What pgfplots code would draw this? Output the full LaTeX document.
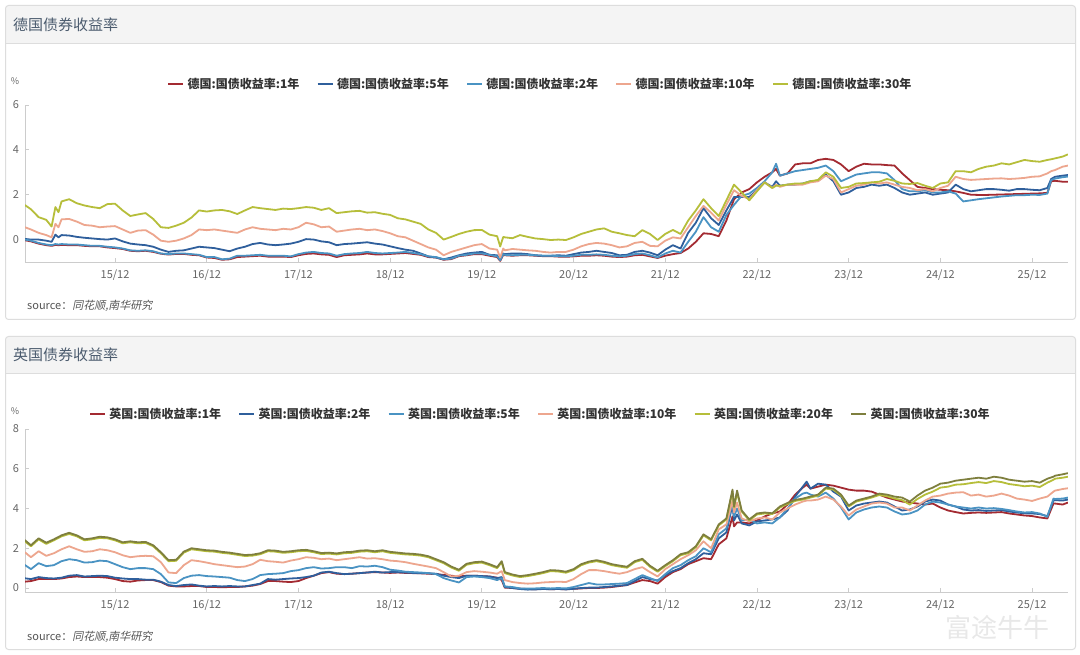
\documentclass[border=0pt]{standalone}
\usepackage{pgfplots}
\usepackage{pgfplotstable}
\pgfplotsset{compat=1.18}
\usepackage{fontspec}
\setmainfont{Noto Sans CJK SC}
\newfontfamily\cjkslant{Noto Sans CJK SC}[FakeSlant=0.2]

\definecolor{cred}{HTML}{A32A31}
\definecolor{cdblue}{HTML}{2F5F9C}
\definecolor{clblue}{HTML}{4A93C3}
\definecolor{csalmon}{HTML}{EDA68E}
\definecolor{cyellow}{HTML}{B6BE3A}
\definecolor{colive}{HTML}{7E7F3E}
\definecolor{panelborder}{HTML}{DDDDDD}
\definecolor{titlefill}{HTML}{F4F4F4}
\definecolor{titlecol}{HTML}{4B5B6E}
\definecolor{axiscol}{HTML}{CCCCCC}
\definecolor{tickcol}{HTML}{666666}
\definecolor{legcol}{HTML}{333333}
\definecolor{srccol}{HTML}{555555}

\pgfplotstableread[row sep=\\]{
m g1 g2 g5 g10 g30\\
-0.8 -0.03 0.00 0.03 0.55 1.54\\
0 -0.08 -0.05 0.00 0.45 1.35\\
1 -0.18 -0.15 0.00 0.30 1.00\\
2 -0.25 -0.22 -0.05 0.20 0.88\\
2.7 -0.28 -0.25 -0.10 0.10 0.58\\
3.2 -0.24 -0.20 0.22 0.70 1.45\\
3.6 -0.25 -0.22 0.10 0.55 1.22\\
4 -0.24 -0.20 0.20 0.90 1.70\\
5 -0.25 -0.22 0.18 0.92 1.80\\
6 -0.25 -0.22 0.12 0.80 1.62\\
7 -0.28 -0.25 0.08 0.65 1.52\\
8 -0.30 -0.28 0.05 0.62 1.45\\
9 -0.30 -0.28 0.02 0.55 1.40\\
10 -0.35 -0.32 0.00 0.58 1.58\\
11 -0.38 -0.35 0.05 0.60 1.60\\
12 -0.42 -0.40 -0.08 0.45 1.30\\
13 -0.50 -0.48 -0.18 0.30 1.05\\
14 -0.52 -0.50 -0.22 0.40 1.12\\
15 -0.50 -0.48 -0.25 0.42 1.18\\
16 -0.55 -0.52 -0.32 0.22 0.92\\
17 -0.63 -0.62 -0.45 -0.05 0.55\\
18 -0.67 -0.65 -0.55 -0.10 0.52\\
19 -0.64 -0.62 -0.50 -0.05 0.62\\
20 -0.64 -0.62 -0.48 0.05 0.75\\
21 -0.68 -0.65 -0.40 0.20 0.98\\
22 -0.70 -0.68 -0.32 0.45 1.30\\
23 -0.80 -0.78 -0.35 0.42 1.25\\
24 -0.82 -0.78 -0.38 0.45 1.30\\
25 -0.90 -0.88 -0.45 0.40 1.32\\
26 -0.88 -0.85 -0.52 0.35 1.26\\
27 -0.78 -0.72 -0.40 0.30 1.14\\
28 -0.76 -0.72 -0.32 0.45 1.30\\
29 -0.74 -0.70 -0.20 0.55 1.45\\
30 -0.72 -0.68 -0.15 0.48 1.40\\
31 -0.76 -0.72 -0.22 0.45 1.36\\
32 -0.76 -0.72 -0.25 0.42 1.32\\
33 -0.76 -0.72 -0.22 0.48 1.38\\
34 -0.78 -0.75 -0.18 0.45 1.36\\
35 -0.70 -0.65 -0.10 0.55 1.40\\
36 -0.64 -0.58 0.02 0.75 1.45\\
37 -0.62 -0.55 0.00 0.68 1.42\\
38 -0.66 -0.60 -0.08 0.55 1.32\\
39 -0.68 -0.62 -0.12 0.58 1.40\\
40 -0.78 -0.72 -0.25 0.35 1.18\\
41 -0.70 -0.65 -0.20 0.40 1.22\\
42 -0.68 -0.62 -0.18 0.45 1.26\\
43 -0.66 -0.60 -0.15 0.48 1.28\\
44 -0.62 -0.55 -0.12 0.42 1.20\\
45 -0.66 -0.60 -0.18 0.45 1.22\\
46 -0.66 -0.62 -0.22 0.38 1.15\\
47 -0.64 -0.60 -0.30 0.28 1.10\\
48 -0.62 -0.58 -0.38 0.15 0.95\\
49 -0.60 -0.55 -0.45 0.10 0.90\\
50 -0.64 -0.60 -0.50 -0.05 0.80\\
51 -0.68 -0.65 -0.62 -0.20 0.70\\
52 -0.78 -0.75 -0.75 -0.35 0.45\\
53 -0.80 -0.78 -0.80 -0.45 0.30\\
54 -0.90 -0.88 -0.88 -0.70 0.00\\
55 -0.87 -0.85 -0.80 -0.55 0.12\\
56 -0.74 -0.72 -0.70 -0.45 0.25\\
57 -0.70 -0.68 -0.62 -0.35 0.35\\
58 -0.65 -0.62 -0.58 -0.25 0.42\\
59 -0.65 -0.62 -0.55 -0.20 0.43\\
60 -0.72 -0.68 -0.68 -0.40 0.22\\
61 -0.78 -0.75 -0.70 -0.45 0.15\\
61.4 -0.95 -0.92 -0.90 -0.80 -0.31\\
61.8 -0.68 -0.65 -0.62 -0.40 0.12\\
62 -0.70 -0.68 -0.65 -0.48 0.10\\
63 -0.72 -0.70 -0.62 -0.42 0.06\\
64 -0.70 -0.68 -0.62 -0.45 0.20\\
65 -0.70 -0.68 -0.65 -0.48 0.12\\
66 -0.72 -0.70 -0.70 -0.50 0.05\\
67 -0.74 -0.72 -0.72 -0.55 0.02\\
68 -0.74 -0.72 -0.72 -0.58 -0.02\\
69 -0.76 -0.74 -0.70 -0.55 0.00\\
70 -0.77 -0.75 -0.72 -0.55 -0.02\\
71 -0.75 -0.72 -0.65 -0.45 0.10\\
72 -0.72 -0.68 -0.58 -0.30 0.25\\
73 -0.72 -0.68 -0.55 -0.20 0.35\\
74 -0.70 -0.66 -0.50 -0.15 0.45\\
75 -0.72 -0.68 -0.55 -0.18 0.50\\
76 -0.76 -0.72 -0.60 -0.25 0.35\\
77 -0.78 -0.75 -0.70 -0.35 0.28\\
78 -0.76 -0.72 -0.68 -0.30 0.20\\
79 -0.70 -0.65 -0.55 -0.15 0.15\\
80 -0.68 -0.62 -0.50 -0.10 0.42\\
81 -0.75 -0.70 -0.58 -0.28 0.25\\
82 -0.82 -0.80 -0.70 -0.30 -0.02\\
83 -0.72 -0.62 -0.45 -0.05 0.25\\
84 -0.65 -0.50 -0.25 0.10 0.43\\
85 -0.60 -0.58 -0.40 0.05 0.25\\
86 -0.40 -0.10 0.30 0.55 0.85\\
87 -0.10 0.35 0.75 1.05 1.30\\
88 0.28 1.00 1.40 1.50 1.80\\
89 0.25 0.55 0.95 1.20 1.40\\
90 0.15 0.35 0.65 0.85 1.05\\
91 0.85 1.10 1.30 1.55 1.75\\
92 1.80 1.55 1.90 2.20 2.45\\
93 2.10 1.95 1.90 1.95 2.10\\
94 2.25 2.05 1.90 1.80 1.75\\
95 2.55 2.30 2.20 2.20 2.15\\
96 2.80 2.60 2.55 2.55 2.55\\
97 3.00 3.00 2.35 2.30 2.30\\
97.5 3.15 3.38 2.60 2.45 2.40\\
98 2.85 2.85 2.40 2.35 2.40\\
99 2.95 2.95 2.45 2.45 2.45\\
100 3.35 3.05 2.45 2.45 2.50\\
101 3.40 3.10 2.50 2.45 2.50\\
102 3.40 3.15 2.60 2.55 2.60\\
103 3.55 3.20 2.62 2.60 2.66\\
104 3.60 3.30 2.90 2.85 3.00\\
105 3.55 3.05 2.60 2.70 2.80\\
106 3.35 2.60 2.00 2.10 2.30\\
107 3.05 2.75 2.10 2.25 2.35\\
108 3.25 2.90 2.30 2.40 2.50\\
109 3.38 2.95 2.35 2.45 2.52\\
110 3.35 3.00 2.45 2.55 2.55\\
111 3.35 3.00 2.40 2.50 2.58\\
112 3.32 2.95 2.45 2.55 2.70\\
113 3.30 2.65 2.30 2.45 2.62\\
114 2.95 2.25 2.10 2.35 2.50\\
115 2.65 2.15 2.00 2.30 2.48\\
116 2.35 2.15 2.05 2.20 2.52\\
117 2.30 2.20 2.10 2.25 2.40\\
118 2.25 2.10 2.00 2.15 2.30\\
119 2.22 2.10 2.05 2.30 2.50\\
120 2.20 2.15 2.10 2.40 2.55\\
121 2.15 2.05 2.45 2.80 3.05\\
122 2.08 1.70 2.25 2.70 3.05\\
123 2.00 1.75 2.15 2.66 3.00\\
124 1.99 1.80 2.20 2.68 3.15\\
125 1.99 1.84 2.25 2.70 3.25\\
126 2.00 1.88 2.25 2.72 3.30\\
127 2.01 1.92 2.22 2.73 3.40\\
128 2.02 1.95 2.18 2.70 3.35\\
129 2.03 1.98 2.25 2.72 3.45\\
130 2.04 1.98 2.25 2.75 3.55\\
131 2.05 2.00 2.22 2.80 3.50\\
132 2.06 1.99 2.20 2.82 3.47\\
133 2.08 2.05 2.30 2.95 3.55\\
133.5 2.60 2.65 2.70 3.05 3.58\\
134 2.62 2.72 2.80 3.10 3.62\\
135 2.58 2.78 2.85 3.25 3.70\\
135.7 2.58 2.81 2.88 3.30 3.80\\
}\germ

\pgfplotstableread[row sep=\\]{
m u1 u2 u5 u10 u20 u30\\
-0.8 0.32 0.49 1.16 1.80 2.35 2.41\\
0 0.35 0.45 0.95 1.55 2.10 2.15\\
1 0.45 0.55 1.25 1.85 2.45 2.50\\
2 0.45 0.50 1.10 1.62 2.22 2.28\\
3 0.45 0.48 1.15 1.75 2.40 2.45\\
4 0.48 0.52 1.35 1.95 2.60 2.65\\
5 0.55 0.62 1.45 2.10 2.72 2.78\\
6 0.58 0.65 1.40 1.95 2.60 2.65\\
7 0.55 0.58 1.28 1.82 2.40 2.45\\
8 0.55 0.60 1.30 1.85 2.45 2.50\\
9 0.55 0.62 1.38 1.95 2.52 2.58\\
10 0.52 0.60 1.35 1.90 2.50 2.55\\
11 0.45 0.52 1.20 1.80 2.40 2.45\\
12 0.35 0.48 1.05 1.65 2.25 2.30\\
13 0.32 0.45 0.95 1.55 2.30 2.35\\
14 0.38 0.45 1.00 1.60 2.25 2.30\\
15 0.40 0.42 1.00 1.62 2.27 2.32\\
16 0.40 0.42 0.95 1.60 2.10 2.15\\
17 0.30 0.32 0.70 1.30 1.75 1.80\\
18 0.12 0.15 0.28 0.78 1.35 1.40\\
19 0.08 0.10 0.25 0.75 1.37 1.42\\
20 0.08 0.15 0.50 1.15 1.78 1.83\\
21 0.10 0.18 0.62 1.40 1.95 2.00\\
22 0.10 0.12 0.65 1.35 1.90 1.95\\
23 0.05 0.08 0.60 1.28 1.85 1.90\\
24 0.05 0.10 0.58 1.20 1.83 1.88\\
25 0.04 0.08 0.55 1.15 1.77 1.82\\
26 0.05 0.10 0.52 1.10 1.73 1.78\\
27 0.05 0.08 0.40 1.05 1.67 1.72\\
28 0.08 0.08 0.35 1.08 1.61 1.66\\
29 0.12 0.15 0.45 1.20 1.63 1.68\\
30 0.20 0.22 0.65 1.42 1.70 1.75\\
31 0.35 0.45 0.70 1.35 1.85 1.90\\
32 0.35 0.42 0.72 1.32 1.83 1.88\\
33 0.32 0.45 0.75 1.28 1.77 1.82\\
34 0.30 0.48 0.85 1.38 1.80 1.85\\
35 0.35 0.50 0.90 1.45 1.85 1.90\\
36 0.50 0.55 1.00 1.55 1.87 1.92\\
37 0.62 0.62 1.05 1.52 1.80 1.85\\
38 0.75 0.78 0.98 1.45 1.71 1.76\\
39 0.80 0.82 1.00 1.48 1.73 1.78\\
40 0.72 0.75 1.05 1.40 1.69 1.74\\
41 0.70 0.70 1.05 1.45 1.75 1.80\\
42 0.72 0.72 1.00 1.50 1.77 1.82\\
43 0.75 0.75 1.10 1.55 1.83 1.88\\
44 0.78 0.78 1.08 1.48 1.85 1.90\\
45 0.80 0.82 1.12 1.50 1.80 1.85\\
46 0.78 0.78 1.05 1.45 1.85 1.90\\
47 0.76 0.80 0.92 1.38 1.77 1.82\\
48 0.78 0.80 0.88 1.35 1.73 1.78\\
49 0.76 0.78 0.82 1.30 1.69 1.74\\
50 0.75 0.76 0.80 1.22 1.67 1.72\\
51 0.74 0.74 0.78 1.15 1.63 1.68\\
52 0.72 0.74 0.75 1.08 1.55 1.60\\
53 0.70 0.72 0.70 1.00 1.40 1.45\\
54 0.66 0.62 0.50 0.80 1.25 1.30\\
55 0.62 0.55 0.38 0.58 1.03 1.08\\
56 0.58 0.50 0.28 0.62 0.87 0.92\\
57 0.62 0.62 0.55 0.80 1.17 1.22\\
58 0.62 0.62 0.58 0.85 1.25 1.30\\
59 0.60 0.60 0.55 0.82 1.28 1.33\\
60 0.58 0.58 0.50 0.78 1.15 1.20\\
61 0.52 0.50 0.40 0.72 1.00 1.05\\
61.6 0.40 0.55 0.50 0.85 1.30 1.35\\
62 0.02 0.05 0.08 0.40 0.75 0.80\\
63 0.00 0.00 0.05 0.30 0.63 0.68\\
64 -0.03 -0.05 -0.02 0.25 0.55 0.60\\
65 -0.05 -0.08 -0.03 0.22 0.60 0.65\\
66 -0.06 -0.07 -0.02 0.24 0.67 0.72\\
67 -0.04 -0.05 0.00 0.28 0.75 0.80\\
68 -0.06 -0.06 -0.02 0.30 0.85 0.90\\
69 -0.05 -0.05 0.00 0.32 0.83 0.88\\
70 -0.06 -0.07 -0.02 0.30 0.77 0.82\\
71 -0.04 -0.04 0.05 0.45 0.90 0.95\\
72 -0.02 0.00 0.15 0.70 1.15 1.20\\
73 0.00 0.02 0.25 0.90 1.28 1.33\\
74 0.00 0.02 0.18 0.90 1.35 1.40\\
75 0.02 0.05 0.18 0.85 1.27 1.32\\
76 0.05 0.08 0.20 0.78 1.15 1.20\\
77 0.10 0.12 0.22 0.72 1.08 1.13\\
78 0.15 0.15 0.25 0.80 1.02 1.07\\
79 0.28 0.35 0.45 0.95 1.30 1.35\\
80 0.40 0.55 0.65 1.05 1.42 1.47\\
81 0.35 0.45 0.50 0.80 1.07 1.12\\
82 0.22 0.38 0.35 0.58 0.82 0.87\\
83 0.55 0.65 0.70 0.95 1.10 1.15\\
84 0.80 0.85 1.00 1.20 1.35 1.40\\
85 0.95 1.00 1.15 1.45 1.65 1.70\\
86 1.20 1.25 1.40 1.65 1.75 1.80\\
87 1.35 1.45 1.60 1.90 2.05 2.10\\
88 1.50 1.75 2.00 2.35 2.65 2.70\\
89 1.45 1.70 1.80 2.00 2.40 2.45\\
90 2.20 2.50 2.70 2.95 3.15 3.20\\
91 2.50 2.80 3.00 3.20 3.45 3.50\\
91.8 3.60 4.20 4.30 4.40 4.85 4.95\\
92 3.10 3.40 3.60 3.80 4.05 4.10\\
92.4 3.30 3.70 4.00 4.30 4.80 4.90\\
93 3.30 3.25 3.40 3.50 3.85 3.90\\
94 3.25 3.15 3.45 3.35 3.40 3.45\\
95 3.40 3.35 3.25 3.50 3.70 3.75\\
96 3.60 3.40 3.30 3.55 3.75 3.80\\
97 3.75 3.45 3.25 3.45 3.72 3.76\\
98 3.85 3.55 3.55 3.80 4.05 4.10\\
99 4.20 3.90 4.00 4.00 4.23 4.28\\
100 4.70 4.60 4.50 4.20 4.38 4.43\\
101 5.05 5.10 4.75 4.35 4.45 4.50\\
101.5 5.20 5.35 4.80 4.40 4.50 4.55\\
102 5.00 5.00 4.70 4.40 4.55 4.60\\
103 5.10 5.25 4.60 4.45 4.65 4.70\\
104 5.20 5.20 4.80 4.60 5.00 5.05\\
105 5.15 4.85 4.50 4.45 4.95 5.00\\
106 5.05 4.60 4.05 4.10 4.65 4.70\\
107 4.95 3.90 3.45 3.65 4.10 4.15\\
108 4.90 4.15 3.80 3.95 4.35 4.40\\
109 4.90 4.25 3.95 4.10 4.45 4.50\\
110 4.85 4.30 4.05 4.25 4.55 4.60\\
111 4.70 4.35 4.10 4.30 4.68 4.75\\
112 4.55 4.30 4.05 4.25 4.62 4.70\\
113 4.45 4.10 3.85 4.05 4.50 4.60\\
114 4.35 3.90 3.70 4.05 4.42 4.55\\
115 4.30 3.95 3.75 3.90 4.20 4.35\\
116 4.25 4.10 3.90 4.15 4.48 4.65\\
117 4.20 4.35 4.20 4.40 4.70 4.90\\
118 4.25 4.45 4.35 4.60 4.85 5.05\\
119 4.05 4.40 4.30 4.65 5.05 5.25\\
120 3.90 4.20 4.20 4.75 5.10 5.30\\
121 3.82 4.10 4.10 4.80 5.20 5.40\\
122 3.75 3.95 4.05 4.82 5.22 5.45\\
123 3.78 3.90 4.00 4.65 5.28 5.50\\
124 3.80 3.92 4.05 4.70 5.33 5.55\\
125 3.78 3.88 4.00 4.60 5.28 5.50\\
126 3.80 3.90 4.02 4.65 5.38 5.60\\
127 3.82 3.92 3.98 4.75 5.33 5.55\\
128 3.75 3.85 3.92 4.65 5.23 5.45\\
129 3.70 3.80 3.85 4.50 5.18 5.40\\
130 3.65 3.76 3.80 4.45 5.12 5.35\\
131 3.62 3.75 3.82 4.38 5.15 5.38\\
132 3.55 3.72 3.75 4.50 5.08 5.30\\
133 3.50 3.62 3.58 4.60 5.30 5.50\\
133.8 4.25 4.40 4.50 4.85 5.45 5.60\\
134 4.25 4.42 4.48 4.90 5.50 5.65\\
135 4.20 4.40 4.50 4.98 5.55 5.72\\
135.7 4.30 4.45 4.55 5.02 5.60 5.78\\
}\uk

\pgfplotsset{
  yieldaxis/.style={
    anchor=south west, scale only axis, width=1043pt,
    xmin=-0.78, xmax=135.7,
    axis x line*=bottom, axis y line*=left,
    axis line style={draw=axiscol, line width=0.8pt},
    xtick={11,23,35,47,59,71,83,95,107,119,131},
    xticklabels={15/12,16/12,17/12,18/12,19/12,20/12,21/12,22/12,23/12,24/12,25/12},
    tick align=inside, major tick length=4pt,
    tick style={draw=axiscol, line width=0.8pt},
    ticklabel style={font=\fontsize{11}{13}\selectfont, text=tickcol},
    /pgf/number format/assume math mode=true,
    xticklabel style={anchor=center, yshift=-13pt},
    yticklabel style={anchor=center, xshift=-9pt},
    every axis plot/.append style={line width=1.8pt, line join=round},
    legend columns=-1,
    legend style={draw=none, fill=none, anchor=center, inner sep=0pt,
      font=\bfseries\fontsize{12}{14}\selectfont, text=legcol,
      /tikz/every odd column/.append style={column sep=1pt},
      /tikz/every even column/.append style={column sep=15pt}},
    legend image code/.code={\draw[##1, line width=2.6pt] (0pt,0pt) -- (15pt,0pt);},
  }
}

\begin{document}
\begin{tikzpicture}[x=1pt,y=1pt]
\path[use as bounding box] (0,0) rectangle (1080,654);
\fill[white] (0,0) rectangle (1080,654);
% panel 1
\fill[titlefill, rounded corners=3pt] (5.5,600) rectangle (1075.5,648.5);
\fill[white] (5.5,334.5) rectangle (1075.5,610.5);
\draw[panelborder, line width=0.8pt] (5.5,610.5) -- (1075.5,610.5);
\draw[panelborder, line width=1pt, rounded corners=3pt] (5.5,334.5) rectangle (1075.5,648.5);
\node[anchor=west, font=\fontsize{15}{18}\selectfont, text=titlecol, inner sep=0pt] at (13,629.5) {德国债券收益率};
% panel 2
\fill[titlefill, rounded corners=3pt] (5.5,270) rectangle (1075.5,317.5);
\fill[white] (5.5,4.5) rectangle (1075.5,280.5);
\draw[panelborder, line width=0.8pt] (5.5,280.5) -- (1075.5,280.5);
\draw[panelborder, line width=1pt, rounded corners=3pt] (5.5,4.5) rectangle (1075.5,317.5);
\node[anchor=west, font=\fontsize{15}{18}\selectfont, text=titlecol, inner sep=0pt] at (13,299.5) {英国债券收益率};
% watermark
\node[text=black!9, font=\fontsize{26}{30}\selectfont, inner sep=0pt] at (997,26) {富途牛牛};
% percent labels
\node[font=\fontsize{9}{10}\selectfont, text=tickcol, inner sep=0pt] at (15,573) {\%};
\node[font=\fontsize{9}{10}\selectfont, text=tickcol, inner sep=0pt] at (15,243) {\%};
% sources
\node[anchor=west, font=\fontsize{11}{13}\selectfont, text=srccol, inner sep=0pt] at (27,348) {source：{\cjkslant 同花顺,南华研究}};
\node[anchor=west, font=\fontsize{11}{13}\selectfont, text=srccol, inner sep=0pt] at (27,17) {source：{\cjkslant 同花顺,南华研究}};

\begin{axis}[yieldaxis, at={(25pt,392pt)}, height=157pt,
  ymin=-1, ymax=6, ytick={0,2,4,6},
  legend style={at={(axis description cs:0.494,1.134)}}]
\addplot[cred, no marks] table[x=m, y=g1] {\germ};
\addlegendentry{德国:国债收益率:1年}
\addplot[cdblue, no marks] table[x=m, y=g5] {\germ};
\addlegendentry{德国:国债收益率:5年}
\addplot[clblue, no marks] table[x=m, y=g2] {\germ};
\addlegendentry{德国:国债收益率:2年}
\addplot[csalmon, no marks] table[x=m, y=g10] {\germ};
\addlegendentry{德国:国债收益率:10年}
\addplot[cyellow, no marks] table[x=m, y=g30] {\germ};
\addlegendentry{德国:国债收益率:30年}
\end{axis}

\begin{axis}[yieldaxis, at={(25pt,62pt)}, height=163pt,
  ymin=-0.2, ymax=8, ytick={0,2,4,6,8},
  legend style={at={(axis description cs:0.494,1.092)}}]
\addplot[cred, no marks] table[x=m, y=u1] {\uk};
\addlegendentry{英国:国债收益率:1年}
\addplot[cdblue, no marks] table[x=m, y=u2] {\uk};
\addlegendentry{英国:国债收益率:2年}
\addplot[clblue, no marks] table[x=m, y=u5] {\uk};
\addlegendentry{英国:国债收益率:5年}
\addplot[csalmon, no marks] table[x=m, y=u10] {\uk};
\addlegendentry{英国:国债收益率:10年}
\addplot[cyellow, no marks] table[x=m, y=u20] {\uk};
\addlegendentry{英国:国债收益率:20年}
\addplot[colive, no marks] table[x=m, y=u30] {\uk};
\addlegendentry{英国:国债收益率:30年}
\end{axis}
\end{tikzpicture}
\end{document}
